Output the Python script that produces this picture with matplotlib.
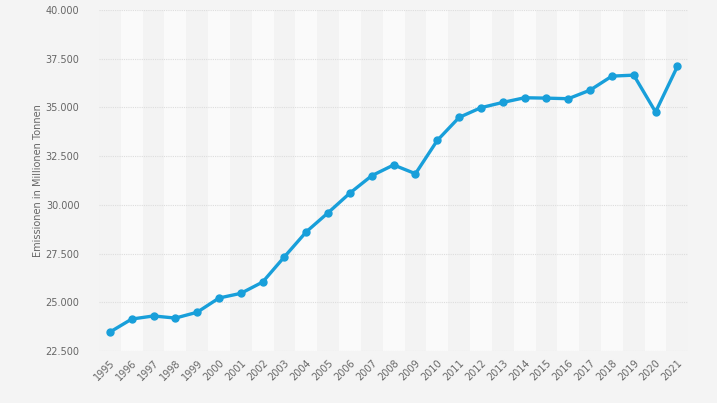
import matplotlib.pyplot as plt
from matplotlib.ticker import FuncFormatter

years = list(range(1995, 2022))
emissions = [23470, 24140, 24300, 24190, 24490, 25220, 25460, 26040, 27340, 28620,
             29600, 30610, 31500, 32050, 31600, 33310, 34490, 34990, 35260, 35500,
             35480, 35450, 35890, 36610, 36660, 34770, 37110]
y_ticks = [22500, 25000, 27500, 30000, 32500, 35000, 37500, 40000]

bg = '#f4f4f4'
fig = plt.figure(figsize=(7.17, 4.03), dpi=100, facecolor=bg)
ax = fig.add_axes([0.138, 0.129, 0.822, 0.846])
ax.set_facecolor(bg)

# alternating column bands
for i, yr in enumerate(years):
    ax.axvspan(yr - 0.5, yr + 0.5, color='#f3f3f3' if i % 2 == 0 else '#fafafa', lw=0, zorder=0)

ax.set_ylim(22500, 40000)
ax.set_xlim(1994.5, 2021.5)
ax.set_yticks(y_ticks)
ax.yaxis.set_major_formatter(FuncFormatter(lambda v, p: f'{int(v):,}'.replace(',', '.')))
ax.set_xticks(years)
ax.set_xticklabels([str(y) for y in years], rotation=45, ha='right', rotation_mode='anchor')
ax.grid(axis='y', color='#dddddd', linestyle=(0, (1, 1)), linewidth=0.8, zorder=1)
ax.set_axisbelow(True)

ax.plot(years, emissions, color='#189fda', linewidth=2.4, marker='o', markersize=5,
        zorder=3, solid_capstyle='round', solid_joinstyle='round')

for s in ax.spines.values():
    s.set_visible(False)
ax.tick_params(length=0, labelsize=7, colors='#666666')
ax.tick_params(axis='y', pad=14)
ax.tick_params(axis='x', pad=5)
ax.set_ylabel('Emissionen in Millionen Tonnen', fontsize=7, color='#666666', labelpad=2)

fig.savefig('out.png', dpi=100, facecolor=bg)
